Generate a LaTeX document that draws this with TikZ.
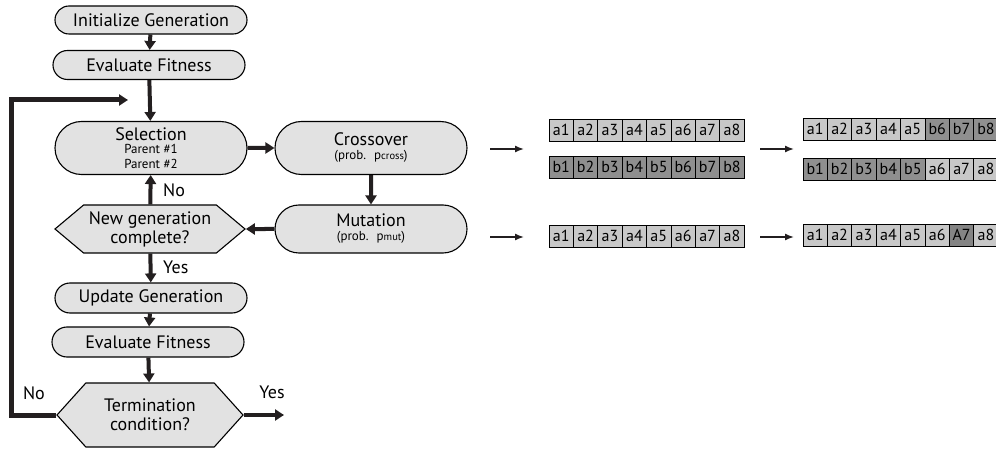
\documentclass[tikz,border=0pt]{standalone}
\usepackage{fontspec}
\setmainfont{PT Sans}
\usepackage{tikz}
\usetikzlibrary{shapes.misc}
\usetikzlibrary{shapes.symbols}
\usetikzlibrary{arrows.meta}
\definecolor{boxgray}{HTML}{E2E2E2}
\definecolor{genlight}{HTML}{C8C8C8}
\definecolor{gendark}{HTML}{8F8F8F}
\definecolor{arrowdark}{HTML}{231F20}
\pgfdeclarelayer{flechas}
\pgfdeclarelayer{cajas}
\pgfsetlayers{flechas,cajas,main}
\tikzstyle{none}=[inner sep=0pt]
\tikzstyle{paso}=[rounded rectangle,draw=black,fill=boxgray,line width=1.1pt,minimum width=192pt,inner sep=0pt,font=\fontsize{18}{18}\selectfont,align=center]
\tikzstyle{decision}=[signal,signal to=east and west,signal pointer angle=80,draw=black,fill=boxgray,line width=1.1pt,minimum width=190pt,minimum height=48pt,inner sep=0pt,font=\fontsize{18}{19}\selectfont,align=center]
\tikzstyle{etiqueta}=[inner sep=0pt,font=\fontsize{18}{18}\selectfont]
\tikzstyle{flecha}=[draw=arrowdark,line width=4pt,-{Triangle[length=9pt,width=11pt]}]
\tikzstyle{retorno}=[flecha,line width=5pt]
\tikzstyle{fina}=[draw=arrowdark,line width=1.4pt,-{Latex[length=9pt,width=7pt]}]
\tikzstyle{gen}=[draw=black,line width=0.9pt,minimum width=24.4pt,minimum height=22pt,inner sep=0pt,font=\fontsize{16}{16}\selectfont]
\newcommand{\chico}[1]{{\fontsize{13}{13}\selectfont #1}}

\begin{document}
\begin{tikzpicture}[x=1pt,y=-1pt]
		\useasboundingbox (0,0) rectangle (996,449);
		\begin{pgfonlayer}{cajas}
			\node [style=paso,minimum height=28pt] (init) at (151,20) {Initialize Generation};
			\node [style=paso,minimum height=29pt] (eval1) at (149,65) {Evaluate Fitness};
			\node [style=paso,minimum height=53pt] (sel) at (151,148) {Selection\\[-5pt]\chico{Parent \#1}\\[-3pt]\chico{Parent \#2}};
			\node [style=paso,minimum height=53pt] (cross) at (371,148) {Crossover\\[-4pt]\chico{(prob.~ p{\fontsize{10.5}{10}\selectfont cross})}};
			\node [style=paso,minimum height=48pt] (mut) at (371,229) {Mutation\\[-4pt]\chico{(prob.~ p{\fontsize{10.5}{10}\selectfont mut})}};
			\node [style=decision] (newgen) at (150,229) {New generation\\complete?};
			\node [style=paso,minimum height=30pt] (update) at (151,298) {Update Generation};
			\node [style=paso,minimum height=30pt] (eval2) at (148,342) {Evaluate Fitness};
			\node [style=decision,minimum width=186pt,minimum height=64pt,signal pointer angle=96] (term) at (150,415) {Termination\\condition?};
			\node [style=etiqueta,anchor=west] (no1) at (163,190) {No};
			\node [style=etiqueta,anchor=west] (yes1) at (163,267) {Yes};
			\node [style=etiqueta] (no2) at (34,393) {No};
			\node [style=etiqueta] (yes2) at (272,392) {Yes};
			% chromosomes before and after
			\foreach \t [count=\i] in {a1,a2,a3,a4,a5,a6,a7,a8}
				\node [style=gen,fill=genlight] (pa\i) at ({561.2+24.4*(\i-1)},130) {\t};
			\foreach \t [count=\i] in {b1,b2,b3,b4,b5,b6,b7,b8}
				\node [style=gen,fill=gendark] (pb\i) at ({561.2+24.4*(\i-1)},167) {\t};
			\foreach \t [count=\i] in {a1,a2,a3,a4,a5,a6,a7,a8}
				\node [style=gen,fill=genlight] (pm\i) at ({561.2+24.4*(\i-1)},236) {\t};
			\foreach \t/\c [count=\i] in {a1/genlight,a2/genlight,a3/genlight,a4/genlight,a5/genlight,b6/gendark,b7/gendark,b8/gendark}
				\node [style=gen,fill=\c] (ha\i) at ({815.2+24.4*(\i-1)},129) {\t};
			\foreach \t/\c [count=\i] in {b1/gendark,b2/gendark,b3/gendark,b4/gendark,b5/gendark,a6/genlight,a7/genlight,a8/genlight}
				\node [style=gen,fill=\c] (hb\i) at ({815.2+24.4*(\i-1)},169) {\t};
			\foreach \t/\c [count=\i] in {a1/genlight,a2/genlight,a3/genlight,a4/genlight,a5/genlight,a6/genlight,A7/gendark!92!black,a8/genlight}
				\node [style=gen,fill=\c] (hm\i) at ({815.2+24.4*(\i-1)},235) {\t};
		\end{pgfonlayer}
		\coordinate (ret) at (128,100);
		\coordinate (salida) at (284,415);
		\coordinate (c1) at (490,149);
		\coordinate (c2) at (524,149);
		\coordinate (c3) at (760,149);
		\coordinate (c4) at (794,149);
		\coordinate (m1) at (490,237);
		\coordinate (m2) at (524,237);
		\coordinate (m3) at (760,237);
		\coordinate (m4) at (794,237);
		\begin{pgfonlayer}{flechas}
			\path [style=flecha] (init) -- (eval1);
			\path [style=flecha] (eval1) -- (sel);
			\path [style=flecha] (sel) -- (cross);
			\path [style=flecha] (cross) -- (mut);
			\path [style=flecha] (mut) -- (newgen);
			\path [style=flecha] (newgen) -- (sel);
			\path [style=flecha] (newgen) -- (update);
			\path [style=flecha] (update) -- (eval2);
			\path [style=flecha] (eval2) -- (term);
			\path [style=flecha] (term.east) -- (salida);
			\path [style=retorno] (term.west) -- ++(-45,0) |- (ret);
			\path [style=fina] (c1) -- (c2);
			\path [style=fina] (c3) -- (c4);
			\path [style=fina] (m1) -- (m2);
			\path [style=fina] (m3) -- (m4);
		\end{pgfonlayer}
\end{tikzpicture}
\end{document}
